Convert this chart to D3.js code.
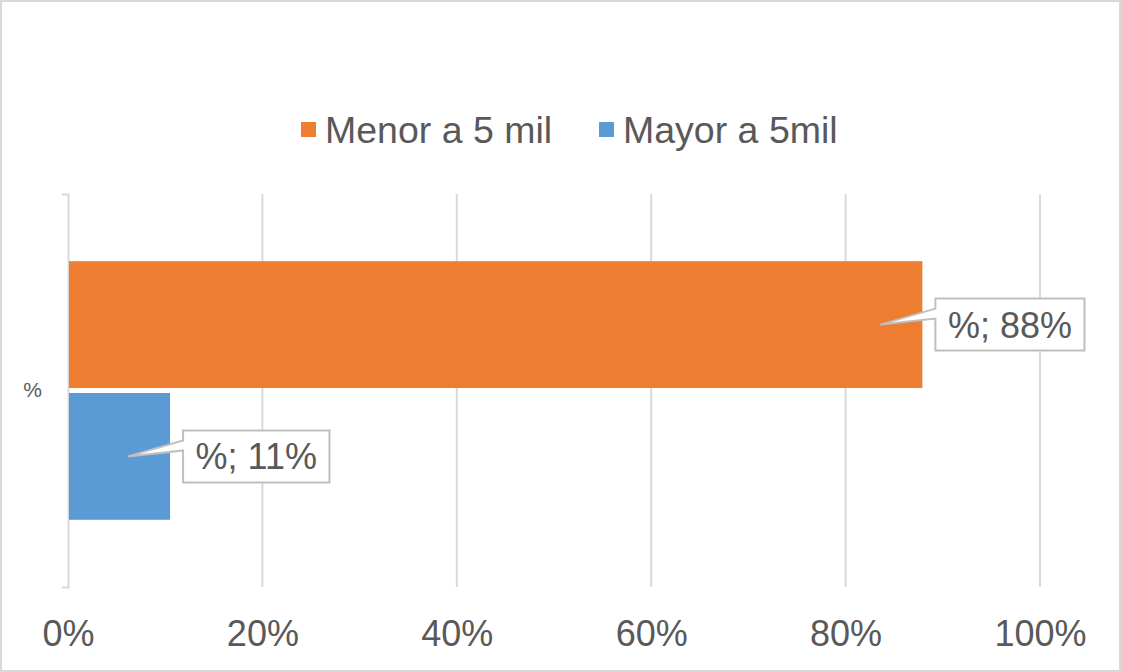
<!DOCTYPE html>
<html>
<head>
<meta charset="utf-8">
<script src="https://cdn.jsdelivr.net/npm/d3@7"></script>
<style>
html,body{margin:0;padding:0;background:#fff;}
svg{display:block;font-family:"Liberation Sans",Arial,sans-serif;}
</style>
</head>
<body>
<svg id="chart" width="1121" height="672"></svg>
<script>
const categories = ["%"];
const seriesNames = ["Menor a 5 mil", "Mayor a 5mil"];
const seriesValues = [0.879, 0.105];
const seriesLabels = ["%; 88%", "%; 11%"];
const seriesColors = ["#ED7D31", "#5B9BD5"];
const xTicks = [0, 0.2, 0.4, 0.6, 0.8, 1.0];

const W = 1121, H = 672;
const margin = {left: 68, right: 81, top: 194, bottom: 85};
const svg = d3.select("#chart");
const textColor = "#595959";
const gridColor = "#d9d9d9";

// outer border
svg.append("rect").attr("x",1).attr("y",1).attr("width",W-2).attr("height",H-2)
  .attr("fill","#fff").attr("stroke","#d9d9d9").attr("stroke-width",2);

const x = d3.scaleLinear().domain([0,1]).range([margin.left, W - margin.right]);
const yCat = d3.scaleBand().domain(categories).range([margin.top, H - margin.bottom]).padding(0);
const ySer = d3.scaleBand().domain(seriesNames).range([yCat(categories[0]), yCat(categories[0]) + yCat.bandwidth()])
  .paddingInner(0.038).paddingOuter(0.51);

// gridlines
svg.append("g").selectAll("line").data(xTicks.filter(d => d > 0)).join("line")
  .attr("x1", d => x(d)).attr("x2", d => x(d))
  .attr("y1", margin.top).attr("y2", H - margin.bottom)
  .attr("stroke", gridColor).attr("stroke-width", 2);

// bottom axis labels
const xAxis = d3.axisBottom(x).tickValues(xTicks).tickFormat(d3.format(".0%")).tickSize(0).tickPadding(0);
const gx = svg.append("g").attr("transform", `translate(0, 619)`).call(xAxis);
gx.select(".domain").remove();
gx.selectAll("text").attr("font-size", 36).attr("fill", textColor)
  .attr("font-family", '"Liberation Sans",Arial,sans-serif').attr("dy", "0.74em");

// left axis
const yAxis = d3.axisLeft(yCat).tickSizeInner(0).tickSizeOuter(6).tickPadding(26);
const gy = svg.append("g").attr("transform", `translate(${margin.left},0)`).call(yAxis);
gy.select(".domain").attr("stroke", gridColor).attr("stroke-width", 2);
gy.selectAll("text").attr("font-size", 21).attr("fill", textColor)
  .attr("font-family", '"Liberation Sans",Arial,sans-serif');

// bars
const barData = seriesNames.map((s, i) => ({name: s, value: seriesValues[i], label: seriesLabels[i], color: seriesColors[i]}));
svg.append("g").selectAll("rect").data(barData).join("rect")
  .attr("x", x(0) + 1).attr("y", d => ySer(d.name))
  .attr("width", d => x(d.value) - x(0) - 1).attr("height", ySer.bandwidth())
  .attr("fill", d => d.color);

// callouts
const cg = svg.append("g");
barData.forEach(d => {
  const cy = ySer(d.name) + ySer.bandwidth() / 2;
  const bx = x(d.value) + 13;
  const g = cg.append("g");
  const t = g.append("text").text(d.label).attr("font-size", 36).attr("fill", textColor)
    .attr("x", bx + 12.5).attr("y", cy + 13);
  const tw = t.node().getComputedTextLength();
  const bw = tw + 25, bh = 52;
  const by = cy - 26;
  const px = x(d.value) - 42, py = cy;
  const path = `M${bx},${by} H${bx+bw} V${by+bh} H${bx} V${by+20} L${px},${py} L${bx},${by+10} Z`;
  g.insert("path", "text").attr("d", path).attr("fill", "#fff").attr("stroke", "#bfbfbf").attr("stroke-width", 2);
});

// legend
const legend = svg.append("g");
const legendX = [301, 599];
seriesNames.forEach((s, i) => {
  legend.append("rect").attr("x", legendX[i]).attr("y", 122).attr("width", 15).attr("height", 15).attr("fill", seriesColors[i]);
  legend.append("text").attr("x", legendX[i] + 24).attr("y", 143).text(s)
    .attr("font-size", 37.5).attr("fill", textColor);
});
</script>
</body>
</html>
